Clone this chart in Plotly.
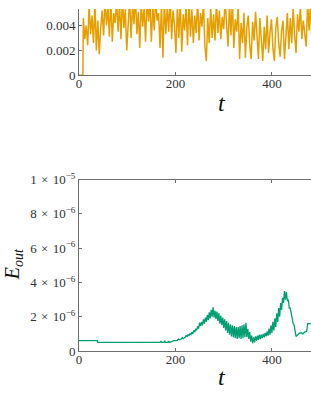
import plotly.graph_objects as go

# ---------------- data ----------------
# top panel (orange): values in units of 1e-3, sampled every 3 time units from t=9
top_t_start = [0, 8]
top_v_start = [0.0, 0.0]
top_vals_e3 = [
    4.6, 2.9, 4.0, 2.4, 5.6, 3.3, 4.8, 2.6, 5.9, 2.0, 4.4, 1.7, 3.8, 5.2,
    3.2, 6.1, 4.0, 5.5, 3.1, 6.3, 2.7, 5.0, 4.2, 6.0, 3.5, 5.8, 2.9, 6.4, 3.8, 5.3, 2.0,
    4.8, 6.2, 3.0, 5.7, 4.1, 6.5, 3.3, 5.1, 2.2, 6.0, 3.9, 5.4, 2.7, 6.3, 4.3, 5.9, 2.7,
    5.6, 3.6, 6.2, 4.4, 5.0, 2.2, 5.8, 1.4, 6.1, 3.3, 5.5, 3.5, 6.4, 2.9, 5.2, 4.0, 1.8,
    5.7, 3.0, 6.0, 1.9, 4.9, 3.6, 5.6, 2.4, 6.2, 3.1, 5.3, 2.6, 4.8, 3.4, 6.1, 2.8, 5.0,
    3.9, 5.9, 2.3, 1.15, 4.6, 2.6, 5.5, 3.0, 4.9, 2.8, 6.0, 3.4, 5.2, 2.9, 4.7, 3.7, 6.3,
    4.0, 2.3, 5.8, 3.2, 6.1, 2.2, 4.5, 3.5, 5.7, 1.3, 4.2, 2.6, 5.0, 1.4, 3.9, 4.8, 2.4,
    1.3, 4.3, 2.8, 5.1, 3.2, 1.3, 4.6, 2.5, 1.15, 3.9, 2.1, 4.8, 1.8, 3.4, 4.5, 2.2, 1.15,
    3.8, 4.7, 2.6, 1.5, 3.6, 4.4, 1.3, 3.0, 5.0, 2.1, 4.6, 2.6, 5.4, 3.2, 1.8, 4.9, 3.5,
    5.6, 2.9, 4.4, 3.3, 2.3, 5.8, 3.6, 6.0, 2.5, 4.8, 3.9,
]
top_t = top_t_start + [9 + 3 * i for i in range(len(top_vals_e3))]
top_v = top_v_start + [v * 1e-3 for v in top_vals_e3]

# bottom panel (green): E_out, values in units of 1e-6
bot_t = [0, 38, 39, 168, 170, 171, 176, 178, 179, 184, 186, 187, 192, 196, 200, 204, 206, 208,
         212, 214, 216, 220, 222, 224, 226, 228, 230, 232, 234, 236, 238, 240, 242, 244, 246,
         248, 250, 252, 254, 256, 258, 260, 262, 264, 266, 268, 270, 272, 274, 276, 278, 280,
         282, 284, 286, 288, 290, 292, 294, 296, 298, 300, 302, 304, 306, 308, 310, 312, 314,
         316, 318, 320, 322, 324, 326, 328, 330, 332, 334, 336, 338, 340, 342, 344, 346, 348,
         350, 352, 354, 356, 358, 360, 362, 364, 366, 368, 370, 372, 374, 376, 378, 380, 382,
         384, 386, 388, 390, 392, 394, 396, 398, 400, 402, 404, 406, 408, 410, 412, 414, 416,
         418, 420, 422, 424, 426, 428, 430, 432, 434, 436, 438, 440, 442, 444, 446, 448, 450,
         452, 456, 458, 462, 464, 468, 472, 474, 490]
bot_e6 = [0.6, 0.6, 0.5, 0.5, 0.58, 0.5, 0.5, 0.6, 0.5, 0.5, 0.58, 0.5, 0.55, 0.6, 0.6, 0.62, 0.7, 0.65,
          0.7, 0.78, 0.72, 0.8, 0.9, 0.85, 0.95, 0.9, 1.0, 0.95, 1.1, 1.0, 1.2, 1.1, 1.3, 1.2, 1.45,
          1.3, 1.65, 1.45, 1.7, 1.5, 1.85, 1.6, 1.95, 1.7, 2.1, 1.8, 2.25, 1.9, 2.4, 2.0, 2.55, 1.95,
          2.35, 1.85, 2.3, 1.75, 2.2, 1.6, 2.05, 1.5, 1.95, 1.35, 1.85, 1.2, 1.75, 1.05, 1.65, 0.95, 1.55,
          0.85, 1.5, 0.8, 1.45, 0.75, 1.4, 0.7, 1.4, 0.75, 1.45, 0.7, 1.5, 0.75, 1.55, 0.8, 1.65, 0.8,
          1.3, 0.7, 1.1, 0.55, 0.9, 0.45, 0.8, 0.5, 0.85, 0.6, 0.9, 0.65, 0.95, 0.7, 0.95, 0.75, 1.0,
          0.8, 1.05, 0.85, 1.15, 0.9, 1.3, 0.95, 1.5, 1.05, 1.7, 1.2, 1.9, 1.4, 2.2, 1.7, 2.5, 2.0,
          2.8, 2.4, 3.1, 2.8, 3.5, 3.0, 3.45, 2.9, 3.0, 2.5, 2.5, 2.1, 2.0, 1.6, 1.5, 1.1, 0.85,
          0.9, 1.0, 1.05, 1.05, 1.0, 1.1, 1.15, 1.6, 1.6]
bot_v = [v * 1e-6 for v in bot_e6]

x_ticks = [0, 200, 400]
top_y_ticks = [0, 0.002, 0.004, 0.006]
top_y_text = ["0", "0.002", "0.004", "0.006"]
bot_y_ticks = [0, 2e-6, 4e-6, 6e-6, 8e-6, 1e-5]
bot_y_text = ["0", "2\u2004×\u200410<sup>−6</sup>", "4\u2004×\u200410<sup>−6</sup>",
              "6\u2004×\u200410<sup>−6</sup>", "8\u2004×\u200410<sup>−6</sup>",
              "1\u2004×\u200410<sup>−5</sup>"]

# ---------------- figure ----------------
ORANGE = "#E69F00"
GREEN = "#009E73"
AXC = "#6e6e6e"
TXT = "#333333"
FONT = "Liberation Serif"

fig = go.Figure()
fig.add_trace(go.Scatter(x=top_t, y=top_v, mode="lines",
                         line=dict(color=ORANGE, width=1.5), xaxis="x", yaxis="y",
                         showlegend=False))
fig.add_trace(go.Scatter(x=bot_t, y=bot_v, mode="lines",
                         line=dict(color=GREEN, width=1.3), xaxis="x2", yaxis="y2",
                         showlegend=False))

common_x = dict(range=[0, 481], tickvals=x_ticks, ticktext=[str(v) for v in x_ticks],
                ticks="inside", ticklen=3, tickcolor=AXC, showline=True, linecolor=AXC,
                linewidth=1, showgrid=False, zeroline=False, ticklabelstandoff=-4,
                tickfont=dict(family=FONT, size=13, color=TXT))
common_y = dict(ticks="inside", ticklen=3, tickcolor=AXC, showline=True, linecolor=AXC,
                linewidth=1, showgrid=False, zeroline=False,
                tickfont=dict(family=FONT, size=13, color=TXT))

fig.update_layout(
    width=311, height=402,
    margin=dict(l=79, r=0, t=0, b=51),
    paper_bgcolor="white", plot_bgcolor="white",
    xaxis=dict(domain=[0, 1], anchor="y", mirror=False, **common_x),
    yaxis=dict(domain=[0.8063, 1], anchor="x", range=[0, 0.00533],
               tickvals=top_y_ticks, ticktext=top_y_text, **common_y),
    xaxis2=dict(domain=[0, 1], anchor="y2", mirror="ticks", **common_x),
    yaxis2=dict(domain=[0, 0.5014], anchor="x2", range=[0, 1e-5],
                tickvals=bot_y_ticks, ticktext=bot_y_text, **common_y),
    annotations=[
        dict(text="<i>t</i>", x=0.616, y=0.7265, xref="paper", yref="paper",
             showarrow=False, font=dict(family=FONT, size=24, color="#111111"),
             xanchor="center", yanchor="middle"),
        dict(text="<i>t</i>", x=0.616, y=-0.0769, xref="paper", yref="paper",
             showarrow=False, font=dict(family=FONT, size=24, color="#111111"),
             xanchor="center", yanchor="middle"),
        dict(text="<i>E<sub>out</sub></i>", x=-0.2845, y=0.2536, xref="paper", yref="paper",
             showarrow=False, textangle=-90, font=dict(family=FONT, size=20, color="#111111"),
             xanchor="center", yanchor="middle"),
    ],
)

post = ("document.body.style.margin='0';document.body.style.overflow='hidden';"
        "var d=document.getElementById('{plot_id}');"
        "d.style.position='fixed';d.style.top='0px';d.style.left='0px';")
fig.write_html("out.html", post_script=post, config={"displayModeBar": False})
